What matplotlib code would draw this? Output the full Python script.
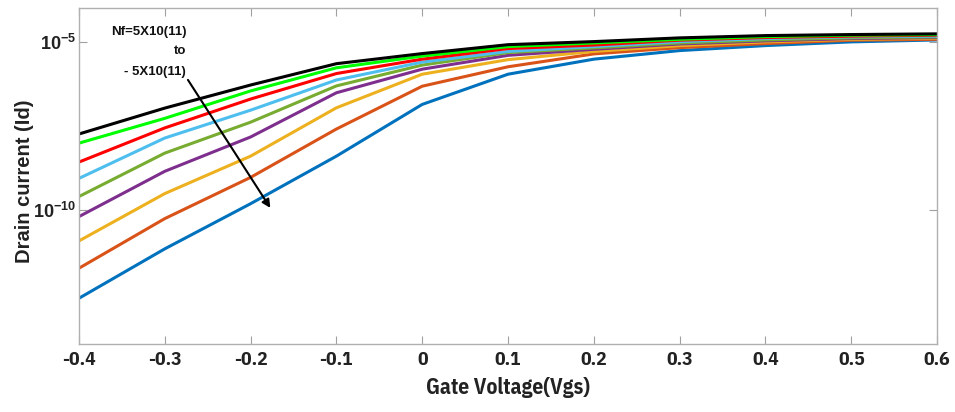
import numpy as np
import matplotlib
matplotlib.use("Agg")
import matplotlib.pyplot as plt
from matplotlib.ticker import NullLocator
from matplotlib import font_manager
from matplotlib.textpath import TextPath

# gate voltage sweep
vgs = [-0.4, -0.3, -0.2, -0.1, 0.0, 0.1, 0.2, 0.3, 0.4, 0.5, 0.6]

# drain current (A)
id_blue = [2.3e-13, 6.8e-12, 1.5e-10, 3.9e-9, 1.35e-7, 1.07e-6, 3.0e-6, 5.4e-6, 7.6e-6, 9.8e-6, 1.12e-5]
id_orange = [1.8e-12, 5.4e-11, 9.1e-10, 2.5e-8, 4.7e-7, 1.78e-6, 4.3e-6, 6.6e-6, 8.7e-6, 1.1e-5, 1.17e-5]
id_yellow = [1.17e-11, 3.0e-10, 3.9e-9, 1.07e-7, 1.07e-6, 2.9e-6, 5.1e-6, 7.6e-6, 9.8e-6, 1.17e-5, 1.26e-5]
id_purple = [6.2e-11, 1.38e-9, 1.45e-8, 3.0e-7, 1.51e-6, 3.9e-6, 5.9e-6, 8.5e-6, 1.05e-5, 1.23e-5, 1.32e-5]
id_olive = [2.45e-10, 4.8e-9, 4.0e-8, 4.8e-7, 2.0e-6, 4.7e-6, 6.5e-6, 9.1e-6, 1.12e-5, 1.29e-5, 1.38e-5]
id_cyan = [8.5e-10, 1.35e-8, 9.1e-8, 7.2e-7, 2.45e-6, 5.1e-6, 7.1e-6, 1.0e-5, 1.23e-5, 1.38e-5, 1.45e-5]
id_red = [2.6e-9, 2.7e-8, 1.95e-7, 1.12e-6, 3.0e-6, 6.2e-6, 7.9e-6, 1.1e-5, 1.32e-5, 1.45e-5, 1.55e-5]
id_green = [9.5e-9, 5.2e-8, 3.4e-7, 1.66e-6, 3.7e-6, 7.1e-6, 9.1e-6, 1.17e-5, 1.41e-5, 1.55e-5, 1.62e-5]
id_black = [1.78e-8, 1.05e-7, 5.1e-7, 2.2e-6, 4.4e-6, 8.1e-6, 1.0e-5, 1.29e-5, 1.51e-5, 1.62e-5, 1.7e-5]

series = [
    (id_blue, '#0072BD'),
    (id_orange, '#D95319'),
    (id_yellow, '#EDB120'),
    (id_purple, '#7E2F8E'),
    (id_olive, '#77AC30'),
    (id_cyan, '#4DBEEE'),
    (id_red, '#FF0000'),
    (id_green, '#00FF00'),
    (id_black, '#000000'),
]

# pick the condensed bold face whose x label width is closest to the picture (~162 px)
xlab = 'Gate Voltage(Vgs)'
cond, best = None, 1e9
for f in sorted(font_manager.findSystemFonts()):
    name = f.lower()
    if not ('narrow' in name or 'condensed' in name) or 'bold' not in name:
        continue
    if 'oblique' in name or 'italic' in name or 'semi' in name or 'extra' in name:
        continue
    try:
        w = TextPath((0, 0), xlab, prop=font_manager.FontProperties(fname=f, size=15.5)).get_extents().width
    except Exception:
        continue
    diff = abs(w * 100 / 72 - 162)
    if diff < best:
        cond, best = f, diff

if cond:
    lab_font = font_manager.FontProperties(fname=cond, size=15.5)
    tick_font = font_manager.FontProperties(fname=cond, size=14)
else:
    lab_font = font_manager.FontProperties(family='Liberation Sans', weight='bold', size=13)
    tick_font = font_manager.FontProperties(family='Liberation Sans', weight='bold', size=12)

plt.rcParams['mathtext.fontset'] = 'custom'
plt.rcParams['mathtext.bf'] = 'Liberation Sans:bold'
plt.rcParams['mathtext.rm'] = 'Liberation Sans:bold'

fig = plt.figure(figsize=(9.55, 4.12), dpi=100)
ax = fig.add_axes([0.0827, 0.165, 0.8985, 0.8156])

for vals, col in series:
    ax.plot(vgs, vals, color=col, lw=2.2)

ax.set_yscale('log')
ax.set_xlim(-0.4, 0.6)
ax.set_ylim(1e-14, 1e-4)
ax.set_xticks(np.round(np.arange(-0.4, 0.61, 0.1), 1))
ax.set_xticklabels(['-0.4', '-0.3', '-0.2', '-0.1', '0', '0.1', '0.2', '0.3', '0.4', '0.5', '0.6'],
                   fontproperties=tick_font)
ax.set_yticks([1e-10, 1e-5])
ax.set_yticklabels([r'$\mathbf{10^{-10}}$', r'$\mathbf{10^{-5}}$'], fontsize=13)
ax.yaxis.set_minor_locator(NullLocator())

for s in ax.spines.values():
    s.set_color('#b0b0b0')
    s.set_linewidth(1.0)
ax.tick_params(direction='in', length=6, color='#a0a0a0', top=True, right=True,
               labelcolor='#222222')
ax.tick_params(axis='x', pad=5)
ax.tick_params(axis='y', pad=2)

ax.set_xlabel(xlab, fontproperties=lab_font, color='#222222', labelpad=6)
ax.set_ylabel('Drain current (Id)', fontweight='bold', fontsize=14.5,
              family=['Liberation Sans', 'DejaVu Sans'], color='#222222')
ax.yaxis.set_label_coords(-0.052, 0.485)

tfont = dict(family=['Liberation Sans', 'DejaVu Sans'], fontweight='bold', fontsize=9.5,
             ha='right', va='center', color='#111111')
ax.text(-0.275, 10**-4.71, 'Nf=5X10(11)', **tfont)
ax.text(-0.275, 10**-5.28, 'to', **tfont)
ax.text(-0.275, 10**-5.90, '- 5X10(11)', **tfont)

ax.annotate('', xy=(-0.177, 10**-9.95), xytext=(-0.273, 10**-6.14),
            arrowprops=dict(arrowstyle='-|>', color='k', lw=1.5, mutation_scale=12,
                            shrinkA=0, shrinkB=0))

fig.savefig('out.png', dpi=100)
